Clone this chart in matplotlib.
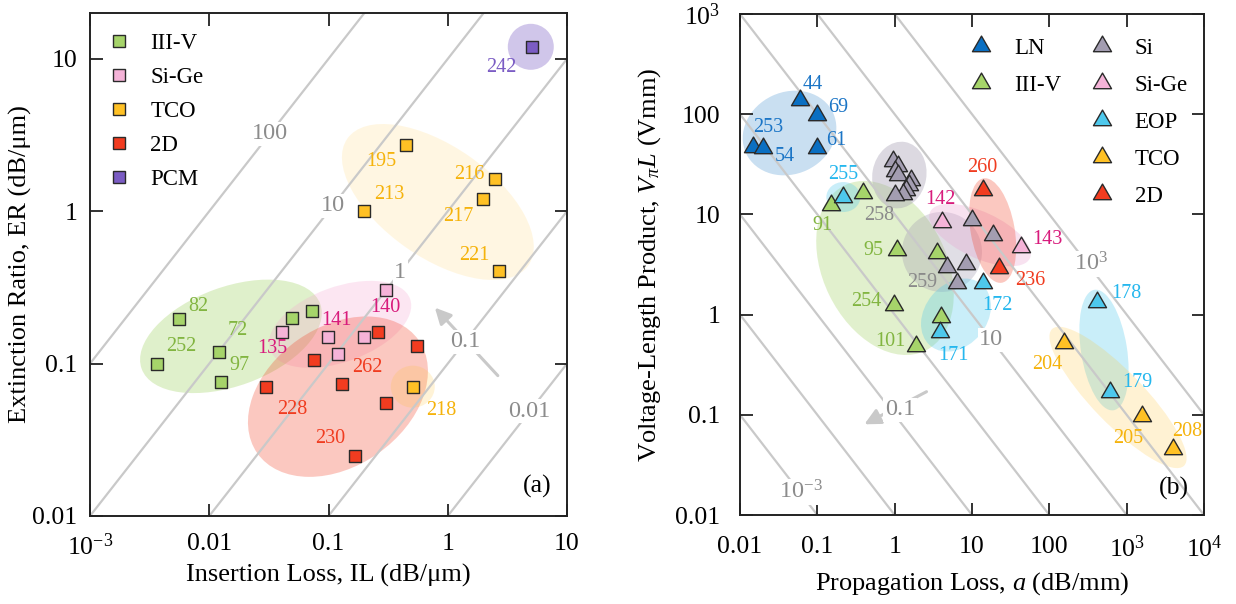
import numpy as np
import matplotlib
matplotlib.use('Agg')
import matplotlib.pyplot as plt
from matplotlib.patches import Ellipse
from matplotlib.transforms import ScaledTranslation
from matplotlib.lines import Line2D
from matplotlib.path import Path
from matplotlib.ticker import FixedLocator, FixedFormatter, NullLocator

plt.rcParams['font.family'] = ['Liberation Serif', 'DejaVu Serif']
plt.rcParams['mathtext.fontset'] = 'custom'
plt.rcParams['mathtext.rm'] = 'Liberation Serif'
plt.rcParams['mathtext.it'] = 'Liberation Serif:italic'
plt.rcParams['mathtext.bf'] = 'Liberation Serif:bold'

# ---------------- Panel (a) data: IL (dB/um) vs ER (dB/um) ----------------
a_iiiv_x = [0.00557, 0.00362, 0.0120, 0.0125, 0.049, 0.073]
a_iiiv_y = [0.195, 0.100, 0.120, 0.0753, 0.200, 0.221]
a_iiiv_lab = ['82', '252', '72', '97', '', '']

a_sige_x = [0.0405, 0.0995, 0.121, 0.200, 0.301]
a_sige_y = [0.161, 0.150, 0.116, 0.150, 0.302]
a_sige_lab = ['135', '141', '', '', '140']

a_tco_x = [0.45, 0.20, 2.48, 1.98, 2.68, 0.507]
a_tco_y = [2.73, 1.00, 1.64, 1.21, 0.404, 0.0703]
a_tco_lab = ['195', '213', '216', '217', '221', '218']

a_2d_x = [0.0299, 0.0759, 0.130, 0.261, 0.557, 0.301, 0.166]
a_2d_y = [0.0703, 0.105, 0.0735, 0.161, 0.130, 0.0551, 0.0249]
a_2d_lab = ['228', '', '262', '', '', '', '230']

a_pcm_x = [5.04]
a_pcm_y = [12.05]
a_pcm_lab = ['242']

a_fom = [100, 10, 1, 0.1, 0.01]
a_fom_text = ['100', '10', '1', '0.1', '0.01']

a_xticks = [1e-3, 1e-2, 0.1, 1, 10]
a_xticklabels = ['10$^{-3}$', '0.01', '0.1', '1', '10']
a_yticks = [0.01, 0.1, 1, 10]
a_yticklabels = ['0.01', '0.1', '1', '10']

# ---------------- Panel (b) data: propagation loss vs VpiL ----------------
b_ln_x = [0.0597, 0.098, 0.098, 0.0149, 0.020]
b_ln_y = [139, 98, 45.7, 47.4, 45.7]
b_ln_lab = ['44', '69', '61', '253', '54']

b_iiiv_x = [0.149, 0.394, 1.06, 3.56, 0.99, 3.94, 1.89]
b_iiiv_y = [12.4, 16.4, 4.41, 4.09, 1.25, 0.953, 0.49]
b_iiiv_lab = ['91', '', '95', '', '254', '', '101']

b_si_x = [0.944, 1.11, 1.01, 1.11, 1.61, 1.55, 1.40, 1.29, 1.01, 9.9, 18.5, 4.71, 8.37, 6.46]
b_si_y = [34.4, 30.6, 27.3, 24.7, 22.0, 19.6, 17.5, 16.0, 15.6, 8.8, 6.22, 2.97, 3.2, 2.05]
b_si_lab = ['', '', '', '', '', '', '', '', '258', '', '', '259', '', '']

b_sige_x = [4.06, 43.0]
b_sige_y = [8.45, 4.76]
b_sige_lab = ['142', '143']

b_eop_x = [0.217, 14.0, 3.85, 419, 611]
b_eop_y = [15.0, 2.05, 0.665, 1.35, 0.17]
b_eop_lab = ['255', '172', '171', '178', '179']

b_tco_x = [153, 1578, 3936]
b_tco_y = [0.525, 0.098, 0.0456]
b_tco_lab = ['204', '205', '208']

b_2d_x = [14.0, 22.5]
b_2d_y = [17.5, 2.9]
b_2d_lab = ['260', '236']

b_fom = [1e-3, 1e-2, 0.1, 1, 10, 100, 1000]
b_fom_text = ['10$^{-3}$', '0.1', '10', '10$^{3}$']

b_xticks = [0.01, 0.1, 1, 10, 100, 1e3, 1e4]
b_xticklabels = ['0.01', '0.1', '1', '10', '100', '10$^{3}$', '10$^{4}$']
b_yticks = [0.01, 0.1, 1, 10, 100, 1e3]
b_yticklabels = ['0.01', '0.1', '1', '10', '100', '10$^{3}$']

# ---------------- styles / label placements (pixels) ----------------
C_III = '#a6d46a'; T_III = '#82b541'
C_SIGE = '#f5b3d8'; T_SIGE = '#d81b7c'
C_TCO = '#ffc125'; T_TCO = '#f5b30c'
C_2D = '#f23c20'; T_2D = '#f03c20'
C_PCM = '#7b5cc4'; T_PCM = '#7b5cc4'
C_LN = '#0a6fc2'; T_LN = '#1b75c6'
C_SI = '#a39db1'; T_SI = '#8a8a8a'
C_EOP = '#4ec8ec'; T_EOP = '#25b7ee'
LINE_C = '#c9c9c9'
FOM_C = '#8c8c8c'

a_off = {
    'iiiv': [(19, 13), (25, 17), (19, 21), (19, 17), None, None],
    'sige': [(-9, -16), (8, 16), None, None, (0, -17)],
    'tco': [(-25, -17), (25, 17), (-25, 4), (-25, -18), (-24, 16), (29, -24)],
    '2d': [(26, -23), None, (25, 16), None, None, None, (-25, 17)],
    'pcm': [(-30, -21)],
}
b_off = {
    'ln': [(13, 15), (22, 8), (20, 8), (15, 19), (22, -8)],
    'iiiv': [(-8, -20), None, (-23, 0), None, (-28, 3), None, (-26, 4)],
    'si': [None] * 8 + [(-16, -20), None, None, (-25, -15), None, None],
    'sige': [(-1, 22), (26, 7)],
    'eop': [(0, 22), (14, -22), (13, -23), (29, 8), (27, 9)],
    'tco': [(-16, -22), (-14, -23), (15, 17)],
    '2d': [(-1, 23), (31, -12)],
}

FS_TICK = 18.5
FS_LAB = 19
FS_NUM = 14.5
FS_LEG = 16.5
FS_FOM = 17.5

tri = Path([(-1, -0.577), (1, -0.577), (0, 1.155), (-1, -0.577)],
           [Path.MOVETO, Path.LINETO, Path.LINETO, Path.CLOSEPOLY])

fig = plt.figure(figsize=(12.36, 6.04), dpi=100)
axA = fig.add_axes([90 / 1236, 88 / 604, 477 / 1236, 503 / 604])
axB = fig.add_axes([740 / 1236, 89 / 604, 464 / 1236, 501 / 604])


def blob(ax, cx, cy, w, h, ang, color, alpha):
    tr = fig.dpi_scale_trans + ScaledTranslation(cx, cy, ax.transData)
    e = Ellipse((0, 0), w / 100, h / 100, angle=ang, transform=tr,
                facecolor=color, alpha=alpha, edgecolor='none', zorder=1)
    ax.add_artist(e)


def group(ax, xs, ys, labs, offs, fc, tc, marker, size):
    ax.scatter(xs, ys, s=size, marker=marker, facecolor=fc, edgecolor='#2a2a2a',
               linewidths=1.0, zorder=3, clip_on=False)
    for x, y, lab, off in zip(xs, ys, labs, offs):
        if lab and off is not None:
            ax.annotate(lab, (x, y), xytext=off, textcoords='offset pixels',
                        ha='center', va='center', color=tc, fontsize=FS_NUM, zorder=4)


def style_axes(ax, xlim, ylim, xt, xtl, yt, ytl, xpad, ypad):
    ax.set_xscale('log'); ax.set_yscale('log')
    ax.set_xlim(*xlim); ax.set_ylim(*ylim)
    ax.xaxis.set_major_locator(FixedLocator(xt))
    ax.xaxis.set_major_formatter(FixedFormatter(xtl))
    ax.yaxis.set_major_locator(FixedLocator(yt))
    ax.yaxis.set_major_formatter(FixedFormatter(ytl))
    ax.xaxis.set_minor_locator(NullLocator())
    ax.yaxis.set_minor_locator(NullLocator())
    ax.tick_params(which='major', direction='in', length=9, width=1.3,
                   top=True, right=True, labelsize=FS_TICK, color='#222222')
    ax.tick_params(axis='x', pad=xpad)
    ax.tick_params(axis='y', pad=ypad)
    for sp in ax.spines.values():
        sp.set_linewidth(1.4)
        sp.set_color('#222222')


# ======================= Panel (a) =======================
style_axes(axA, (1e-3, 10), (0.01, 20), a_xticks, a_xticklabels, a_yticks, a_yticklabels,
           12.5, 9)

blob(axA, 0.0152, 0.151, 190, 99, 20, C_III, 0.35)
blob(axA, 0.125, 0.181, 149, 75, 20, '#f5a8d2', 0.28)
blob(axA, 0.12, 0.0607, 197, 139, 35, C_2D, 0.28)
blob(axA, 0.826, 1.15, 221, 111, -35, C_TCO, 0.13)
blob(axA, 0.509, 0.0706, 44, 42, 0, C_TCO, 0.18)
blob(axA, 4.97, 12.0, 46, 46, 0, C_PCM, 0.35)

xx = np.logspace(-4, 2, 300)
for c in a_fom:
    axA.plot(xx, c * xx, color=LINE_C, lw=1.6, zorder=1.5)

a_fom_pos = [(0.0322, 3.22), (0.109, 1.09), (0.398, 0.398), (1.39, 0.139), (4.87, 0.0487)]
axA.annotate('', xy=(0.78, 0.233), xytext=(2.63, 0.0834),
             arrowprops=dict(arrowstyle='-|>', color=LINE_C, lw=2.2, mutation_scale=24,
                             shrinkA=0, shrinkB=0), zorder=1.6)
for (px, py), t in zip(a_fom_pos, a_fom_text):
    axA.text(px, py, t, color=FOM_C, fontsize=FS_FOM, ha='center', va='center', zorder=2,
             bbox=dict(facecolor='white', edgecolor='none', pad=1.0))

SQ = 76
group(axA, a_iiiv_x, a_iiiv_y, a_iiiv_lab, a_off['iiiv'], C_III, T_III, 's', SQ)
group(axA, a_sige_x, a_sige_y, a_sige_lab, a_off['sige'], C_SIGE, T_SIGE, 's', SQ)
group(axA, a_tco_x, a_tco_y, a_tco_lab, a_off['tco'], C_TCO, T_TCO, 's', SQ)
group(axA, a_2d_x, a_2d_y, a_2d_lab, a_off['2d'], C_2D, T_2D, 's', SQ)
group(axA, a_pcm_x, a_pcm_y, a_pcm_lab, a_off['pcm'], C_PCM, T_PCM, 's', SQ)

hA = [Line2D([], [], ls='none', marker='s', ms=8.7, mfc=c, mec='#2a2a2a', mew=1.0)
      for c in [C_III, C_SIGE, C_TCO, C_2D, C_PCM]]
axA.legend(hA, ['III-V', 'Si-Ge', 'TCO', '2D', 'PCM'], loc='upper left', frameon=False,
           fontsize=FS_LEG, handlelength=0.8, handletextpad=0.95, labelspacing=0.56,
           borderaxespad=0.2, borderpad=0.68)

axA.text(0.937, 0.058, '(a)', transform=axA.transAxes, fontsize=18.5, ha='center', va='center')
axA.set_xlabel('Insertion Loss, IL (dB/\u03bcm)', fontsize=FS_LAB)
axA.set_ylabel('Extinction Ratio, ER (dB/\u03bcm)', fontsize=FS_LAB)
axA.xaxis.set_label_coords(0.5, -0.0954)
axA.yaxis.set_label_coords(-0.1216, 0.5)

# ======================= Panel (b) =======================
style_axes(axB, (0.01, 1e4), (0.01, 1e3), b_xticks, b_xticklabels, b_yticks, b_yticklabels,
           15, 14)

blob(axB, 0.0437, 64.9, 96, 82, 25, C_LN, 0.22)
blob(axB, 0.75, 2.92, 184, 124, -64, C_III, 0.33)
blob(axB, 1.15, 24.7, 67, 54, 80, C_SI, 0.38)
blob(axB, 0.217, 14.9, 34, 30, 0, C_EOP, 0.3)
blob(axB, 4.09, 4.22, 80, 80, 0, C_SI, 0.33)
blob(axB, 12.7, 6.22, 110, 46, -25, '#e8a0d0', 0.3)
blob(axB, 18.5, 6.9, 106, 44, -80, C_2D, 0.28)
blob(axB, 6.21, 0.99, 80, 62, 50, C_EOP, 0.3)
blob(axB, 509, 0.443, 122, 46, -81, C_EOP, 0.3)
blob(axB, 773, 0.149, 190, 52, -46, C_TCO, 0.2)

xb = np.logspace(-3, 5, 300)
for c in b_fom:
    axB.plot(xb, c / xb, color=LINE_C, lw=1.6, zorder=1.5)

b_fom_pos = [(0.0608, 0.0171), (1.17, 0.1117), (17.8, 0.56), (349, 3.2)]
axB.annotate('', xy=(0.406, 0.0804), xytext=(2.58, 0.17),
             arrowprops=dict(arrowstyle='-|>', color=LINE_C, lw=2.2, mutation_scale=24,
                             shrinkA=0, shrinkB=0), zorder=1.6)
for (px, py), t in zip(b_fom_pos, b_fom_text):
    axB.text(px, py, t, color=FOM_C, fontsize=FS_FOM, ha='center', va='center', zorder=2,
             bbox=dict(facecolor='white', edgecolor='none', pad=1.0))

TRI = 225
group(axB, b_ln_x, b_ln_y, b_ln_lab, b_off['ln'], C_LN, T_LN, tri, TRI)
group(axB, b_iiiv_x, b_iiiv_y, b_iiiv_lab, b_off['iiiv'], C_III, T_III, tri, TRI)
group(axB, b_si_x, b_si_y, b_si_lab, b_off['si'], C_SI, T_SI, tri, TRI)
group(axB, b_sige_x, b_sige_y, b_sige_lab, b_off['sige'], C_SIGE, T_SIGE, tri, TRI)
group(axB, b_eop_x, b_eop_y, b_eop_lab, b_off['eop'], C_EOP, T_EOP, tri, TRI)
group(axB, b_tco_x, b_tco_y, b_tco_lab, b_off['tco'], C_TCO, T_TCO, tri, TRI)
group(axB, b_2d_x, b_2d_y, b_2d_lab, b_off['2d'], C_2D, T_2D, tri, TRI)

def th(c):
    return Line2D([], [], ls='none', marker=tri, ms=15, mfc=c, mec='#2a2a2a', mew=1.0)

blank = Line2D([], [], ls='none')
hB = [th(C_LN), th(C_III), blank, blank, blank,
      th(C_SI), th(C_SIGE), th(C_EOP), th(C_TCO), th(C_2D)]
lB = ['LN', 'III-V', ' ', ' ', ' ', 'Si', 'Si-Ge', 'EOP', 'TCO', '2D']
axB.legend(hB, lB, ncol=2, loc='upper left', bbox_to_anchor=(0.443, 1.0), frameon=False,
           fontsize=FS_LEG, handlelength=1.0, handletextpad=0.95, labelspacing=0.7,
           columnspacing=1.25, borderaxespad=0.2, borderpad=0.85)

axB.text(0.936, 0.053, '(b)', transform=axB.transAxes, fontsize=18.5, ha='center', va='center')
axB.set_xlabel('Propagation Loss, $a$ (dB/mm)', fontsize=FS_LAB)
axB.set_ylabel('Voltage-Length Product, $V_{\\pi}L$ (Vmm)', fontsize=FS_LAB)
axB.xaxis.set_label_coords(0.5, -0.1098)
axB.yaxis.set_label_coords(-0.166, 0.5)

fig.savefig('out.png', dpi=100)
